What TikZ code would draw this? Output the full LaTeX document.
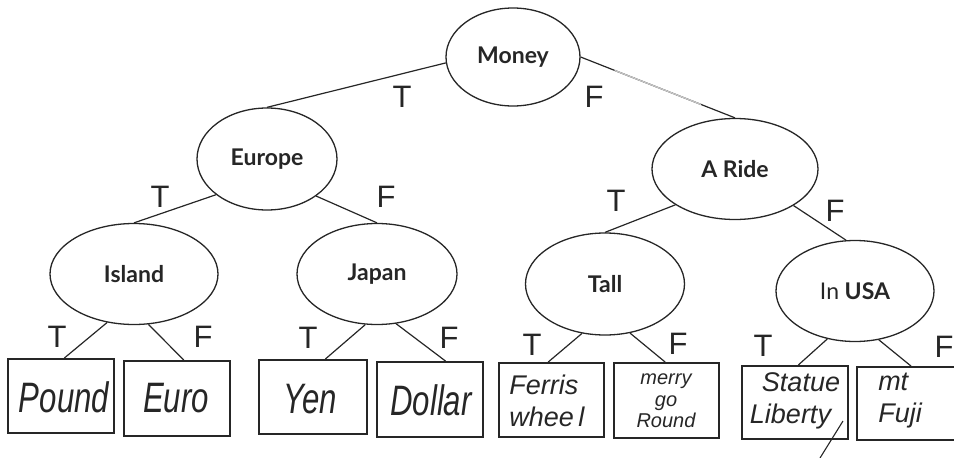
\documentclass[tikz,border=0pt]{standalone}
\usepackage{fontspec}
\usetikzlibrary{shapes.geometric,calc}
\newfontfamily\qfont{Lato}
\newfontfamily\tffont{Liberation Sans}
\newfontfamily\handfont{Liberation Sans}
\definecolor{ink}{HTML}{262626}
\tikzset{
  question/.style={ellipse, draw=ink, line width=1.3pt, inner sep=0pt,
    font=\qfont\bfseries\fontsize{23}{26}\selectfont, text=ink},
  leaf/.style={rectangle, draw=ink, line width=1.9pt, inner sep=0pt},
  branch/.style={draw=ink, line width=1.2pt},
  tf/.style={font=\tffont\fontsize{31}{31}\selectfont, text=ink, inner sep=0pt},
  hand/.style={font=\handfont\itshape\fontsize{38}{38}\selectfont, text=ink,
    xscale=0.82, yscale=1.12, inner sep=0pt},
  handsmall/.style={font=\handfont\itshape\fontsize{27}{32}\selectfont, text=ink,
    inner sep=0pt, align=left},
}
\begin{document}
\begin{tikzpicture}[x=1pt,y=-1pt]
\useasboundingbox (0,0) rectangle (954,458);

% question nodes
\node[question, minimum width=134pt, minimum height=98pt]  (money)  at (513,57)  {Money};
\node[question, minimum width=140pt, minimum height=102pt] (europe) at (267,159) {Europe};
\node[question, minimum width=166pt, minimum height=101pt] (aride)  at (735,169) {A Ride};
\node[question, minimum width=168pt, minimum height=101pt] (island) at (134,274) {Island};
\node[question, minimum width=160pt, minimum height=101pt] (japan)  at (377,274) {Japan};
\node[question, minimum width=159pt, minimum height=102pt] (tall)   at (605,284) {Tall};
\node[question, minimum width=158pt, minimum height=101pt] (inusa)  at (855,291) {{\mdseries In} USA};

% answer boxes
\node[leaf, minimum width=106pt, minimum height=74pt] (pound)  at (61,396)    {};
\node[leaf, minimum width=106pt, minimum height=75pt] (euro)   at (177,398.5) {};
\node[leaf, minimum width=108pt, minimum height=74pt] (yen)    at (313,397)   {};
\node[leaf, minimum width=106pt, minimum height=75pt] (dollar) at (430,399.5) {};
\node[leaf, minimum width=105pt, minimum height=74pt] (ferris) at (551.5,400) {};
\node[leaf, minimum width=105pt, minimum height=75pt] (merry)  at (666.5,400.5) {};
\node[leaf, minimum width=106pt, minimum height=73pt] (statue) at (795,402.5) {};
\node[leaf, minimum width=108pt, minimum height=73pt] (fuji)   at (911,403.5) {};

% handwritten answers
\node[hand] (t-pound)  at (64,397)  {Pound};
\node[hand] (t-euro)   at (176,398) {Euro};
\node[hand] (t-yen)    at (310,399) {Yen};
\node[hand] (t-dollar) at (431,400) {Dollar};
\node[handsmall] (t-ferris) at (547,401) {Ferris\\whee\,l};
\node[handsmall, font=\handfont\itshape\fontsize{20}{21.5}\selectfont, align=center] (t-merry) at (666,401) {merry\\go\\Round};
\node[handsmall] (t-statue) at (795,401) {\hspace{12pt}Statue\\Liberty};
\node[handsmall] (t-fuji)   at (900,401) {mt\\Fuji};
\coordinate (tail-a) at (843,421);
\coordinate (tail-b) at (820,458);
\draw[ink, line width=1.1pt] (tail-a) -- (tail-b);

% branches
\draw[branch] (money.185) -- (europe.north);
\draw[branch] (money.east) -- (aride.north);
\draw[gray!45, line width=1.3pt] ($(money.east)!0.22!(aride.north)$) -- ($(money.east)!0.78!(aride.north)$);
\draw[branch] (europe.215) -- (island.north);
\draw[branch] (europe.323) -- (japan.north);
\draw[branch] (aride.211) -- (tall.north);
\draw[branch] (aride.328) -- (inusa.100);

\draw[branch] (island.241) -- (pound.85);
\draw[branch] (island.286) -- (euro.80);
\draw[branch] (japan.257) -- (yen.72);
\draw[branch] (japan.291) -- (dollar.68);
\draw[branch] (tall.245) -- (ferris.95);
\draw[branch] (tall.297) -- (merry.92);
\draw[branch] (inusa.240) -- (statue.85);
\draw[branch] (inusa.296) -- (fuji.90);

% true / false labels
\node[tf] (l1)  at (402,97)  {T};
\node[tf] (l2)  at (594,97)  {F};
\node[tf] (l3)  at (160,197) {T};
\node[tf] (l4)  at (386,197) {F};
\node[tf] (l5)  at (616,201) {T};
\node[tf] (l6)  at (835,211) {F};
\node[tf] (l7)  at (57,337)  {T};
\node[tf] (l8)  at (203,337) {F};
\node[tf] (l9)  at (308,338) {T};
\node[tf] (l10) at (449,338) {F};
\node[tf] (l11) at (532,345) {T};
\node[tf] (l12) at (678,344) {F};
\node[tf] (l13) at (763,346) {T};
\node[tf] (l14) at (944,347) {F};
\end{tikzpicture}
\end{document}
